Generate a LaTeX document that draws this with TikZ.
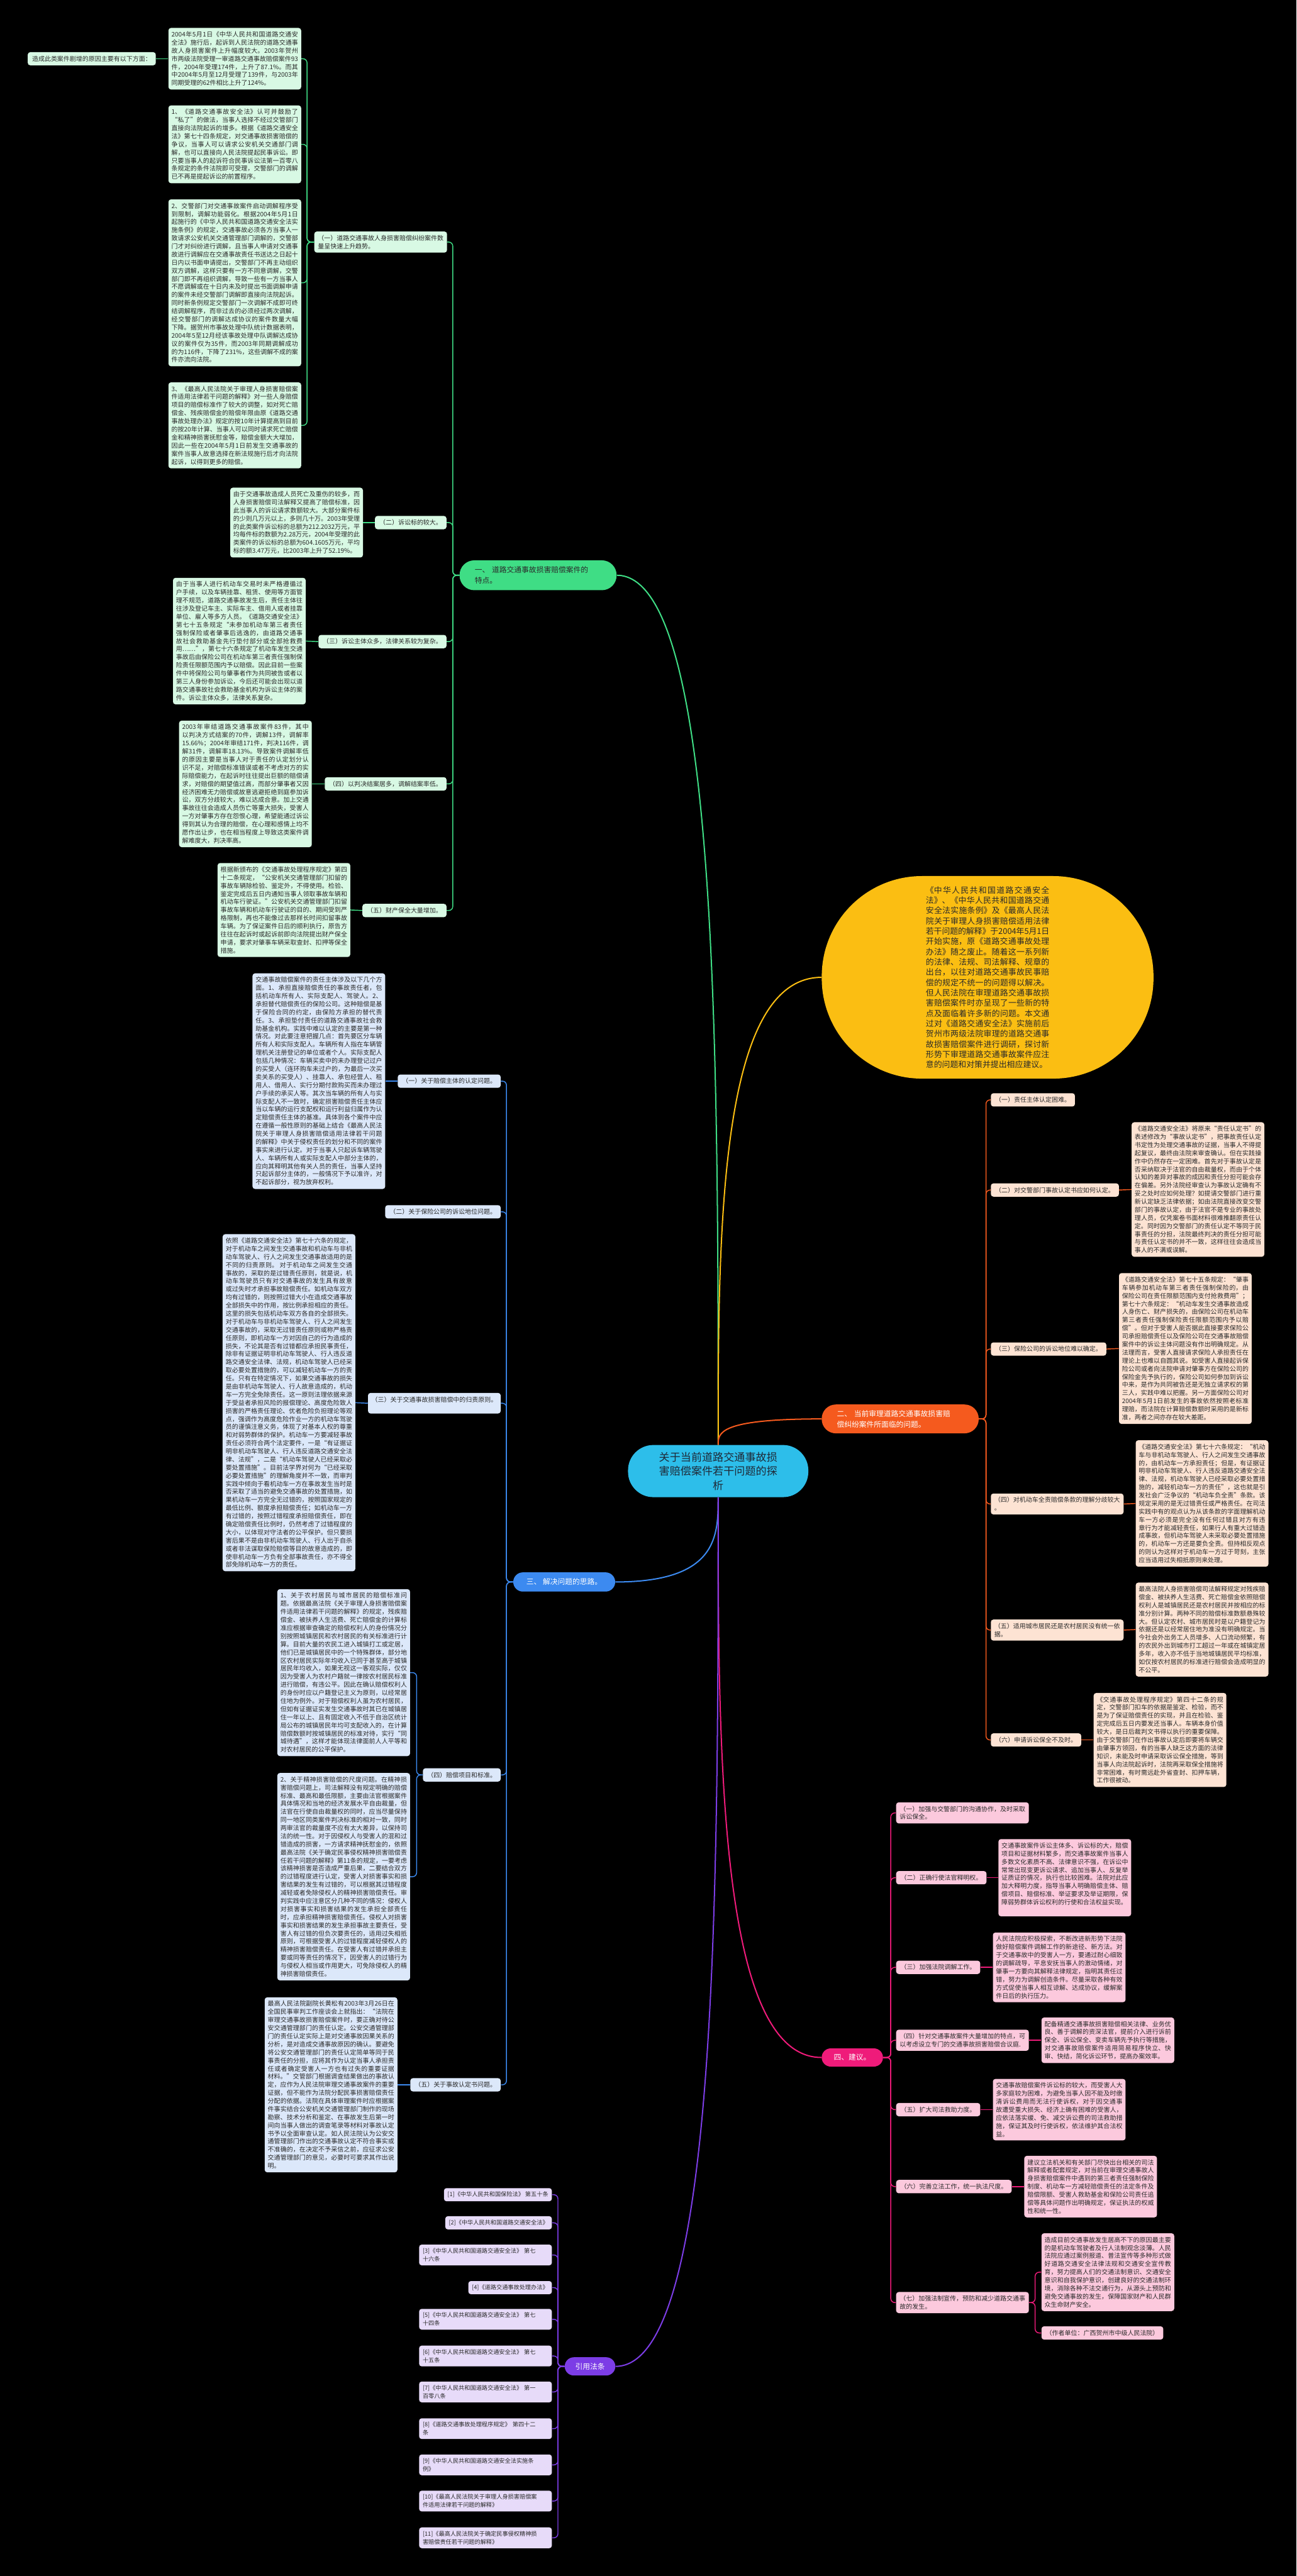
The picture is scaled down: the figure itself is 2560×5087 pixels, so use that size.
\documentclass[tikz,border=0pt]{standalone}
\usepackage{fontspec}
\setmainfont{Noto Sans CJK SC}
\XeTeXlinebreaklocale "zh"
\XeTeXlinebreakskip=0pt plus 1pt minus 0.1pt
\tolerance=9999
\emergencystretch=20pt
\hbadness=10000
\hfuzz=2pt
\definecolor{gmain}{HTML}{3FDD85}
\definecolor{gfill}{HTML}{D8F9E4}
\definecolor{bmain}{HTML}{3C8AF0}
\definecolor{bfill}{HTML}{DCE8FA}
\definecolor{omain}{HTML}{F55A1E}
\definecolor{ofill}{HTML}{FDE3D3}
\definecolor{pmain}{HTML}{EF1B7A}
\definecolor{pfill}{HTML}{FCC9DD}
\definecolor{vmain}{HTML}{7C3DE6}
\definecolor{vfill}{HTML}{E7DBF9}
\definecolor{yel}{HTML}{FBBE12}
\definecolor{cmain}{HTML}{2DBEEA}
\definecolor{txt}{HTML}{2A2A2A}
\definecolor{ctxt}{HTML}{1F2937}
\tikzset{
  para/.style={font=\fontsize{6.2pt}{8pt}\selectfont, text=txt, rounded corners=2.5pt, inner xsep=3pt, inner ysep=3.5pt, text width=125pt, align=justify},
  lab/.style={font=\fontsize{6.2pt}{8pt}\selectfont, text=txt, rounded corners=2.5pt, inner xsep=4.3pt, inner ysep=3.6pt},
  labw/.style={para, align=left, inner xsep=3.5pt, text width=124pt},
  refn/.style={font=\fontsize{5.7pt}{8pt}\selectfont, text=txt, rounded corners=2.5pt, inner xsep=3.5pt, inner ysep=3.6pt},
  refw/.style={refn, text width=124pt, align=left},
  gbx/.style={fill=gfill}, bbx/.style={fill=bfill}, obx/.style={fill=ofill}, pbx/.style={fill=pfill}, vbx/.style={fill=vfill},
  bigbr/.style={font=\fontsize{7.3pt}{10.5pt}\selectfont, align=left},
  mainc/.style={line width=1.25pt},
  subc/.style={line width=0.9pt, rounded corners=4pt},
}
\begin{document}
\begin{tikzpicture}[x=0.5pt,y=-0.5pt]
\fill[black] (0,0) rectangle (2560,5087);
\useasboundingbox (0,0) rectangle (2560,5087);

% ---------- central ----------
\node[fill=cmain, rounded corners=25pt, minimum width=178pt, minimum height=51.5pt, text width=118pt, align=center, font=\fontsize{10.6pt}{14pt}\selectfont, text=ctxt] (c) at (1418,2905) {关于当前道路交通事故损\\害赔偿案件若干问题的探\\析};

% ---------- intro ----------
\node[fill=yel, rounded corners=99pt, minimum width=327.5pt, minimum height=200pt, text width=122pt, inner ysep=2pt, align=justify, font=\fontsize{8pt}{10.15pt}\selectfont, text=txt] (intro) at (1950,1930) {《中华人民共和国道路交通安全法》、《中华人民共和国道路交通安全法实施条例》及《最高人民法院关于审理人身损害赔偿适用法律若干问题的解释》于2004年5月1日开始实施，原《道路交通事故处理办法》随之废止。随着这一系列新的法律、法规、司法解释、规章的出台，以往对道路交通事故民事赔偿的规定不统一的问题得以解决。但人民法院在审理道路交通事故损害赔偿案件时亦呈现了一些新的特点及面临着许多新的问题。本文通过对《道路交通安全法》实施前后贺州市两级法院审理的道路交通事故损害赔偿案件进行调研，探讨新形势下审理道路交通事故案件应注意的问题和对策并提出相应建议。};

% ---------- main branches ----------
\node[fill=gmain, rounded corners=14.5pt, minimum height=29.5pt, anchor=west, inner xsep=15pt, text width=125pt, bigbr, text=txt] (b1) at (907,1136) {一、 道路交通事故损害赔偿案件的\\特点。};
\node[fill=omain, rounded corners=14pt, minimum height=28.5pt, anchor=west, inner xsep=15pt, text width=125pt, bigbr, text=white] (b2) at (1622,2802) {二、 当前审理道路交通事故损害赔\\偿纠纷案件所面临的问题。};
\node[fill=bmain, rounded corners=9.5pt, minimum height=19pt, anchor=west, inner xsep=13pt, bigbr, text=white] (b3) at (1013,3124) {三、 解决问题的思路。};
\node[fill=pmain, rounded corners=9pt, minimum height=18pt, anchor=west, inner xsep=12pt, bigbr, text=white] (b4) at (1622,4063) {四、建议。};
\node[fill=vmain, rounded corners=9pt, minimum height=18pt, minimum width=50pt, bigbr, text=white] (b5) at (1165,4673) {引用法条};

% ---------- branch 1 ----------
\node[labw, gbx, anchor=east] (b1c1) at (883,478) {（一）道路交通事故人身损害赔偿纠纷案件数量呈快速上升趋势。};
\node[para, gbx, anchor=east] (A) at (595,116) {2004年5月1日《中华人民共和国道路交通安全法》施行后，起诉到人民法院的道路交通事故人身损害案件上升幅度较大。2003年贺州市两级法院受理一审道路交通事故赔偿案件93件，2004年受理174件，上升了87.1\%。而其中2004年5月至12月受理了139件，与2003年同期受理的62件相比上升了124\%。};
\node[lab, gbx, anchor=east] (T) at (308,116) {造成此类案件剧增的原因主要有以下方面：};
\node[para, gbx, anchor=east] (B) at (595,285) {1、《道路交通事故安全法》认可并鼓励了“私了”的做法，当事人选择不经过交管部门直接向法院起诉的增多。根据《道路交通安全法》第七十四条规定，对交通事故损害赔偿的争议，当事人可以请求公安机关交通部门调解，也可以直接向人民法院提起民事诉讼。即只要当事人的起诉符合民事诉讼法第一百零八条规定的条件法院即可受理，交警部门的调解已不再是提起诉讼的前置程序。};
\node[para, gbx, anchor=east] (C) at (595,558.5) {2、交警部门对交通事故案件启动调解程序受到限制，调解功能弱化。根据2004年5月1日起施行的《中华人民共和国道路交通安全法实施条例》的规定，交通事故必须各方当事人一致请求公安机关交通管理部门调解的，交警部门才对纠纷进行调解，且当事人申请对交通事故进行调解应在交通事故责任书送达之日起十日内以书面申请提出，交警部门不再主动组织双方调解，这样只要有一方不同意调解，交警部门即不再组织调解，导致一些有一方当事人不愿调解或在十日内未及时提出书面调解申请的案件未经交警部门调解即直接向法院起诉。同时新条例规定交警部门一次调解不成即可终结调解程序，而非过去的必须经过两次调解，经交警部门的调解达成协议的案件数量大幅下降。据贺州市事故处理中队统计数据表明，2004年5至12月经该事故处理中队调解达成协议的案件仅为35件，而2003年同期调解成功的为116件，下降了231\%，这些调解不成的案件亦流向法院。};
\node[para, gbx, anchor=east] (D) at (595,840) {3、《最高人民法院关于审理人身损害赔偿案件适用法律若干问题的解释》对一些人身赔偿项目的赔偿标准作了较大的调整，如对死亡赔偿金、残疾赔偿金的赔偿年限由原《道路交通事故处理办法》规定的按10年计算提高到目前的按20年计算、当事人可以同时请求死亡赔偿金和精神损害抚慰金等，赔偿金额大大增加，因此一些在2004年5月1日前发生交通事故的案件当事人故意选择在新法规施行后才向法院起诉，以得到更多的赔偿。};
\node[lab, gbx, anchor=east] (b1c2) at (882,1032) {（二）诉讼标的较大。};
\node[para, gbx, anchor=east] (E) at (717,1032) {由于交通事故造成人员死亡及重伤的较多，而人身损害赔偿司法解释又提高了赔偿标准，因此当事人的诉讼请求数额较大。大部分案件标的少则几万元以上，多则几十万。2003年受理的此类案件诉讼标的总额为212.2032万元，平均每件标的数额为2.28万元，2004年受理的此类案件的诉讼标的总额为604.1605万元，平均标的额3.47万元，比2003年上升了52.19\%。};
\node[lab, gbx, anchor=east] (b1c3) at (882,1267) {（三）诉讼主体众多，法律关系较为复杂。};
\node[para, gbx, anchor=east] (F) at (604,1266) {由于当事人进行机动车交易时未严格遵循过户手续，以及车辆挂靠、租赁、使用等方面管理不规范，道路交通事故发生后，责任主体往往涉及登记车主、实际车主、借用人或者挂靠单位、雇人等多方人员。《道路交通安全法》第七十五条规定“未参加机动车第三者责任强制保险或者肇事后逃逸的，由道路交通事故社会救助基金先行垫付部分或全部抢救费用……”，第七十六条规定了机动车发生交通事故后由保险公司在机动车第三者责任强制保险责任限额范围内予以赔偿。因此目前一些案件中将保险公司与肇事者作为共同被告或者以第三人身份参加诉讼，今后还可能会出现以道路交通事故社会救助基金机构为诉讼主体的案件。诉讼主体众多，法律关系复杂。};
\node[lab, gbx, anchor=east] (b1c4) at (882,1548) {（四）以判决结案居多，调解结案率低。};
\node[para, gbx, anchor=east] (G) at (616,1548) {2003年审结道路交通事故案件83件，其中以判决方式结案的70件，调解13件，调解率15.66\%；2004年审结171件，判决116件，调解31件，调解率18.13\%。导致案件调解率低的原因主要是当事人对于责任的认定划分认识不足，对赔偿标准错误或者不考虑对方的实际赔偿能力，在起诉时往往提出巨额的赔偿请求，对赔偿的期望值过高，而部分肇事者又因经济困难无力赔偿或故意逃避拒绝到庭参加诉讼，双方分歧较大，难以达成合意。加上交通事故往往会造成人员伤亡等重大损失，受害人一方对肇事方存在怨恨心理，希望能通过诉讼得到其认为合理的赔偿，在心理和感情上均不愿作出让步，也在相当程度上导致这类案件调解难度大，判决率高。};
\node[lab, gbx, anchor=east] (b1c5) at (882,1798) {（五）财产保全大量增加。};
\node[para, gbx, anchor=east] (H) at (692,1797) {根据新颁布的《交通事故处理程序规定》第四十二条规定，“公安机关交通管理部门扣留的事故车辆除检验、鉴定外，不得使用。检验、鉴定完成后五日内通知当事人领取事故车辆和机动车行驶证。”公安机关交通管理部门扣留事故车辆和机动车行驶证的目的、期间受到严格限制，再也不能像过去那样长时间扣留事故车辆。为了保证案件日后的顺利执行，原告方往往在起诉时或起诉前即向法院提出财产保全申请，要求对肇事车辆采取查封、扣押等保全措施。};

% ---------- branch 3 ----------
\node[lab, bbx, anchor=east] (b3c1) at (989,2135) {（一）关于赔偿主体的认定问题。};
\node[para, bbx, anchor=east] (I) at (761,2135) {交通事故赔偿案件的责任主体涉及以下几个方面。1、承担直接赔偿责任的事故责任者，包括机动车所有人、实际支配人、驾驶人。2、承担替代赔偿责任的保险公司。这种赔偿是基于保险合同的约定，由保险方承担的替代责任。3、承担垫付责任的道路交通事故社会救助基金机构。实践中难以认定的主要是第一种情况。对此要注意把握几点：首先要区分车辆所有人和实际支配人。车辆所有人指在车辆管理机关注册登记的单位或者个人。实际支配人包括几种情况：车辆买卖中的未办理登记过户的买受人（连环购车未过户的，为最后一次买卖关系的买受人）、挂靠人、承包经营人、租用人、借用人、实行分期付款购买而未办理过户手续的承买人等。其次当车辆的所有人与实际支配人不一致时，确定损害赔偿责任主体应当以车辆的运行支配权和运行利益归属作为认定赔偿责任主体的基准。具体到各个案件中应在遵循一般性原则的基础上结合《最高人民法院关于审理人身损害赔偿适用法律若干问题的解释》中关于侵权责任的划分和不同的案件事实来进行认定。对于当事人只起诉车辆驾驶人、车辆所有人或实际支配人中部分主体的，应向其释明其他有关人员的责任，当事人坚持只起诉部分主体的，一般情况下予以准许，对不起诉部分，视为放弃权利。};
\node[lab, bbx, anchor=east] (b3c2) at (989,2393) {（二）关于保险公司的诉讼地位问题。};
\node[labw, bbx, anchor=east] (b3c3) at (989,2771) {（三）关于交通事故损害赔偿中的归责原则。\\\mbox{}};
\node[para, bbx, anchor=east] (J) at (702,2770) {依照《道路交通安全法》第七十六条的规定，对于机动车之间发生交通事故和机动车与非机动车驾驶人、行人之间发生交通事故适用的是不同的归责原则。 对于机动车之间发生交通事故的，采取的是过错责任原则，就是说，机动车驾驶员只有对交通事故的发生具有故意或过失时才承担事故赔偿责任。如机动车双方均有过错的，则按照过错大小在造成交通事故全部损失中的作用，按比例承担相应的责任。这里的损失包括机动车双方各自的全部损失。对于机动车与非机动车驾驶人、行人之间发生交通事故的，采取无过错责任原则或称严格责任原则，即机动车一方对因自己的行为造成的损失，不论其是否有过错都应承担民事责任，除非有证据证明非机动车驾驶人、行人违反道路交通安全法律、法规，机动车驾驶人已经采取必要处置措施的，可以减轻机动车一方的责任。只有在特定情况下，如果交通事故的损失是由非机动车驾驶人、行人故意造成的，机动车一方完全免除责任。这一原则法理依据来源于受益者承担风险的报偿理论、高度危险致人损害的严格责任理论、优者危险负担理论等观点，强调作为高度危险作业一方的机动车驾驶员的谨慎注意义务，体现了对基本人权的尊重和对弱势群体的保护。机动车一方要减轻事故责任必须符合两个法定要件，一是“有证据证明非机动车驾驶人、行人违反道路交通安全法律、法规”，二是“机动车驾驶人已经采取必要处置措施”。目前法学界对何为“已经采取必要处置措施”的理解角度并不一致，而审判实践中倾向于看机动车一方在事故发生当时是否采取了适当的避免交通事故的处置措施，如果机动车一方完全无过错的，按照国家规定的最低比例、额度承担赔偿责任；如机动车一方有过错的，按照过错程度承担赔偿责任，即在确定赔偿责任比例时，仍然考虑了过错程度的大小，以体现对守法者的公平保护。但只要损害后果不是由非机动车驾驶人、行人出于自杀或者非法谋取保险赔偿等目的故意造成的，即使非机动车一方负有全部事故责任，亦不得全部免除机动车一方的责任。};
\node[lab, bbx, anchor=east] (b3c4) at (989,3505) {（四）赔偿项目和标准。};
\node[para, bbx, anchor=east] (K) at (810,3303) {1、关于农村居民与城市居民的赔偿标准问题。依据最高法院《关于审理人身损害赔偿案件适用法律若干问题的解释》的规定，残疾赔偿金、被扶养人生活费、死亡赔偿金的计算标准应根据审查确定的赔偿权利人的身份情况分别按照城镇居民和农村居民的有关标准进行计算。目前大量的农民工进入城镇打工或定居，他们已是城镇居民中的一个特殊群体，部分地区农村居民实际年均收入已同于甚至高于城镇居民年均收入，如果无视这一客观实际，仅仅因为受害人为农村户籍就一律按农村居民标准进行赔偿，有违公平。因此在确认赔偿权利人的身份时应以户籍登记主义为原则，以经常居住地为例外。对于赔偿权利人虽为农村居民，但如有证据证实发生交通事故时其已在城镇居住一年以上、且有固定收入不低于自治区统计局公布的城镇居民年均可支配收入的，在计算赔偿数额时按城镇居民的标准对待，实行“同城待遇”，这样才能体现法律面前人人平等和对农村居民的公平保护。};
\node[para, bbx, anchor=east] (L) at (810,3706) {2、关于精神损害赔偿的尺度问题。在精神损害赔偿问题上，司法解释没有规定明确的赔偿标准、最高和最低限额，主要由法官根据案件具体情况和当地的经济发展水平自由裁量，但法官在行使自由裁量权的同时，应当尽量保持同一地区同类案件判决标准的相对一致，同时两审法官的裁量度不应有太大差异，以保持司法的统一性。对于因侵权人与受害人的混和过错造成的损害，一方请求精神抚慰金的，依照最高法院《关于确定民事侵权精神损害赔偿责任若干问题的解释》第11条的规定，一要考虑该精神损害是否造成严重后果，二要结合双方的过错程度进行认定，受害人对损害事实和损害结果的发生有过错的，可以根据其过错程度减轻或者免除侵权人的精神损害赔偿责任。审判实践中应注意区分几种不同的情况：侵权人对损害事实和损害结果的发生承担全部责任时，应承担精神损害赔偿责任。侵权人对损害事实和损害结果的发生承担事故主要责任，受害人有过错的但负次要责任的，适用过失相抵原则，可根据受害人的过错程度减轻侵权人的精神损害赔偿责任。在受害人有过错并承担主要或同等责任的情况下，因受害人的过错行为与侵权人相当或作用更大，可免除侵权人的精神损害赔偿责任。};
\node[lab, bbx, anchor=east] (b3c5) at (989,4117) {（五）关于事故认定书问题。};
\node[para, bbx, anchor=east] (M) at (785,4117) {最高人民法院副院长黄松有2003年3月26日在全国民事审判工作座谈会上就指出：“法院在审理交通事故损害赔偿案件时，要正确对待公安交通管理部门的责任认定。公安交通管理部门的责任认定实际上是对交通事故因果关系的分析，是对造成交通事故原因的确认。要避免将公安交通管理部门的责任认定简单等同于民事责任的分担，应将其作为认定当事人承担责任或者确定受害人一方也有过失的重要证据材料。”交管部门根据调查结果做出的事故认定，应作为人民法院审理交通事故案件的重要证据，但不能作为法院分配民事损害赔偿责任分配的依据。法院在具体审理案件时应根据案件事实结合公安机关交通管理部门制作的现场勘察、技术分析和鉴定、在事故发生后第一时间向当事人做出的调查笔录等材料对事故认定书予以全面审查认定。如人民法院认为公安交通管理部门作出的交通事故认定不符合事实或不准确的，在决定不予采信之前，应征求公安交通管理部门的意见，必要时可要求其作出说明。};

% ---------- branch 2 ----------
\node[lab, obx, anchor=west] (b2c1) at (1956,2172) {（一）责任主体认定困难。};
\node[lab, obx, anchor=west] (b2c2) at (1956,2350) {（二）对交警部门事故认定书应如何认定。};
\node[para, obx, anchor=west] (N) at (2234,2349) {《道路交通安全法》将原来“责任认定书”的表述修改为“事故认定书”，把事故责任认定书定性为处理交通事故的证据，当事人不得提起复议，最终由法院来审查确认。但在实践操作中仍然存在一定困难。首先对于事故认定是否采纳取决于法官的自由裁量权，而由于个体认知的差异对事故的成因和责任分担可能会存在偏差。另外法院经审查认为事故认定确有不妥之处时应如何处理？如提请交警部门进行重新认定缺乏法律依据；如由法院直接改变交警部门的事故认定，由于法官不是专业的事故处理人员，仅凭案卷书面材料很难推翻原责任认定。同时因为交警部门的责任认定不等同于民事责任的分担，法院最终判决的责任分担可能与责任认定书的并不一致，这样往往会造成当事人的不满或误解。};
\node[lab, obx, anchor=west] (b2c3) at (1956,2664) {（三）保险公司的诉讼地位难以确定。};
\node[para, obx, anchor=west] (O) at (2209,2663) {《道路交通安全法》第七十五条规定：“肇事车辆参加机动车第三者责任强制保险的，由保险公司在责任限额范围内支付抢救费用”；第七十六条规定：“机动车发生交通事故造成人身伤亡、财产损失的，由保险公司在机动车第三者责任强制保险责任限额范围内予以赔偿”。但对于受害人能否据此直接要求保险公司承担赔偿责任以及保险公司在交通事故赔偿案件中的诉讼主体问题没有作出明确规定。从法理而言，受害人直接请求保险人承担责任在理论上也难以自圆其说。如受害人直接起诉保险公司或者向法院申请对肇事方在保险公司的保险金先予执行的，保险公司如何参加到诉讼中来，是作为共同被告还是无独立请求权的第三人，实践中难以把握。另一方面保险公司对2004年5月1日前发生的事故依然按照老标准理赔，而法院在计算赔偿数额时采用的是新标准，两者之间亦存在较大差距。};
\node[labw, obx, anchor=west] (b2c4) at (1956,2970) {（四）对机动车全责赔偿条款的理解分歧较大\\。};
\node[para, obx, anchor=west] (P) at (2242,2969) {《道路交通安全法》第七十六条规定：“机动车与非机动车驾驶人、行人之间发生交通事故的，由机动车一方承担责任；但是，有证据证明非机动车驾驶人、行人违反道路交通安全法律、法规，机动车驾驶人已经采取必要处置措施的，减轻机动车一方的责任”，这也就是引发社会广泛争议的“机动车负全责”条款。该规定采用的是无过错责任或严格责任。在司法实践中有的观点认为从该条款的字面理解机动车一方必须是完全没有任何过错且对方有违章行为才能减轻责任，如果行人有重大过错造成事故，但机动车驾驶人未采取必要处置措施的，机动车一方还是要负全责。但持相反观点的则认为这样对于机动车一方过于苛刻，主张应当适用过失相抵原则来处理。};
\node[labw, obx, anchor=west] (b2c5) at (1956,3219) {（五）适用城市居民还是农村居民没有统一依\\据。};
\node[para, obx, anchor=west] (Q) at (2242,3218) {最高法院人身损害赔偿司法解释规定对残疾赔偿金、被扶养人生活费、死亡赔偿金依照赔偿权利人是城镇居民还是农村居民并按相应的标准分别计算。两种不同的赔偿标准数额悬殊较大。但认定农村、城市居民时是以户籍登记为依据还是以经常居住地为准没有明确规定。当今社会外出务工人员增多、人口流动频繁，有的农民外出到城市打工超过一年或在城镇定居多年，收入亦不低于当地城镇居民平均标准，如仅按农村居民的标准进行赔偿会造成明显的不公平。};
\node[lab, obx, anchor=west] (b2c6) at (1956,3436) {（六）申请诉讼保全不及时。};
\node[para, obx, anchor=west] (R) at (2159,3436) {《交通事故处理程序规定》第四十二条的规定，交警部门扣车的依据是鉴定、检验，而不是为了保证赔偿责任的实现，并且在检验、鉴定完成后五日内要发还当事人。车辆本身价值较大，是日后裁判文书得以执行的重要保障。由于交警部门在作出事故认定后即要将车辆交由肇事方领回，有的当事人缺乏这方面的法律知识，未能及时申请采取诉讼保全措施，等到当事人向法院起诉时，法院再采取保全措施将非常困难，有时需远赴外省查封、扣押车辆，工作很被动。};

% ---------- branch 4 ----------
\node[labw, pbx, anchor=west] (b4c1) at (1769,3580) {（一）加强与交警部门的沟通协作，及时采取诉讼保全。};
\node[lab, pbx, anchor=west] (b4c2) at (1769,3708) {（二）正确行使法官释明权。};
\node[para, pbx, anchor=west] (S) at (1971,3708) {交通事故案件诉讼主体多、诉讼标的大，赔偿项目和证据材料繁多，而交通事故案件当事人多数文化素质不高、法律意识不强，在诉讼中常常出现变更诉讼请求、追加当事人、反复举证质证的情况，执行也比较困难。法院对此应加大释明力度，指导当事人明确赔偿主体、赔偿项目、赔偿标准、举证要求及举证期限，保障弱势群体诉讼权利的行使和合法权益实现。\par\mbox{}};
\node[lab, pbx, anchor=west] (b4c3) at (1769,3885) {（三）加强法院调解工作。};
\node[para, pbx, anchor=west] (T4) at (1960,3885) {人民法院应积极探索，不断改进新形势下法院做好赔偿案件调解工作的新途径、新方法。对于交通事故中的受害人一方，要通过耐心细致的调解疏导，平息安抚当事人的激动情绪，对肇事一方要向其解释法律规定，指明其责任过错，努力为调解创造条件。尽量采取各种有效方式促使当事人相互谅解、达成协议，缓解案件日后的执行压力。};
\node[labw, pbx, anchor=west] (b4c4) at (1769,4029) {（四）针对交通事故案件大量增加的特点，可以考虑设立专门的交通事故损害赔偿合议庭.};
\node[para, pbx, anchor=west] (U) at (2056,4029) {配备精通交通事故损害赔偿相关法律、业务优良、善于调解的资深法官，提前介入进行诉前保全、诉讼保全、变卖车辆先予执行等措施，对交通事故赔偿案件适用简易程序快立、快审、快结，简化诉讼环节，提高办案效率。};
\node[lab, pbx, anchor=west] (b4c5) at (1769,4166) {（五）扩大司法救助力度。};
\node[para, pbx, anchor=west] (V) at (1960,4166) {交通事故赔偿案件诉讼标的较大，而受害人大多家庭较为困难，为避免当事人因不能及时缴清诉讼费用而无法行使诉权，对于因交通事故遭受重大损失、经济上确有困难的受害人，应依法落实缓、免、减交诉讼费的司法救助措施，保证其及时行使诉权，依法维护其合法权益。};
\node[lab, pbx, anchor=west] (b4c6) at (1769,4318) {（六）完善立法工作，统一执法尺度。};
\node[para, pbx, anchor=west] (W) at (2022,4318) {建议立法机关和有关部门尽快出台相关的司法解释或者配套规定，对当前在审理交通事故人身损害赔偿案件中遇到的第三者责任强制保险制度、机动车一方减轻赔偿责任的法定条件及赔偿限额、受害人救助基金和保险公司责任追偿等具体问题作出明确规定，保证执法的权威性和统一性。};
\node[labw, pbx, anchor=west] (b4c7) at (1769,4547) {（七）加强法制宣传，预防和减少道路交通事故的发生。};
\node[para, pbx, anchor=west] (X) at (2056,4487) {造成目前交通事故发生居高不下的原因最主要的是机动车驾驶者及行人法制观念淡薄。人民法院应通过案例报道、普法宣传等多种形式做好道路交通安全法律法规和交通安全宣传教育，努力提高人们的交通法制意识、交通安全意识和自我保护意识，创建良好的交通法制环境，消除各种不法交通行为，从源头上预防和避免交通事故的发生，保障国家财产和人民群众生命财产安全。};
\node[lab, pbx, anchor=west] (Y) at (2056,4607) {（作者单位：广西贺州市中级人民法院）};

% ---------- branch 5 ----------
\node[refn, vbx, anchor=east] (r1) at (1090,4334) {[1]《中华人民共和国保险法》 第五十条};
\node[refn, vbx, anchor=east] (r2) at (1090,4389.5) {[2]《中华人民共和国道路交通安全法》};
\node[refw, vbx, anchor=east] (r3) at (1090,4453) {[3]《中华人民共和国道路交通安全法》 第七\\十六条};
\node[refn, vbx, anchor=east] (r4) at (1090,4517.5) {[4]《道路交通事故处理办法》};
\node[refw, vbx, anchor=east] (r5) at (1090,4580) {[5]《中华人民共和国道路交通安全法》 第七\\十四条};
\node[refw, vbx, anchor=east] (r6) at (1090,4652.5) {[6]《中华人民共和国道路交通安全法》 第七\\十五条};
\node[refw, vbx, anchor=east] (r7) at (1090,4723.5) {[7]《中华人民共和国道路交通安全法》 第一\\百零八条};
\node[refw, vbx, anchor=east] (r8) at (1090,4796) {[8]《道路交通事故处理程序规定》 第四十二\\条};
\node[refw, vbx, anchor=east] (r9) at (1090,4867.5) {[9]《中华人民共和国道路交通安全法实施条\\例》};
\node[refw, vbx, anchor=east] (r10) at (1090,4939) {[10]《最高人民法院关于审理人身损害赔偿案\\件适用法律若干问题的解释》};
\node[refw, vbx, anchor=east] (r11) at (1090,5011.5) {[11]《最高人民法院关于确定民事侵权精神损\\害赔偿责任若干问题的解释》};

% ---------- main connectors ----------
\draw[mainc, gmain] (c.north) .. controls (1418,2080) and (1418,1136) .. (b1.east);
\draw[mainc, yel] (c.north) .. controls (1418,2438) and (1418,1930) .. (intro.west);
\draw[mainc, omain] (c.north) .. controls (1418,2830) and (1418,2802) .. (b2.west);
\draw[mainc, bmain] (c.south) .. controls (1418,3032) and (1418,3124) .. (b3.east);
\draw[mainc, pmain] (c.south) .. controls (1418,3455) and (1418,4063) .. (b4.west);
\draw[mainc, vmain] (c.south) .. controls (1418,3729) and (1418,4673) .. (b5.east);

% ---------- branch 1 connectors ----------
\foreach \n in {b1c1,b1c2,b1c3,b1c4,b1c5}
  \draw[subc, gmain] (b1.west) -- ++(-13,0) |- (\n.east);
\foreach \n in {A,B,C,D}
  \draw[subc, gmain] (b1c1.west) -- ++(-14,0) |- (\n.east);
\draw[subc, gmain] (A.west) -- (T.east);
\draw[subc, gmain] (b1c2.west) -- (E.east);
\draw[subc, gmain] (b1c3.west) -- (F.east);
\draw[subc, gmain] (b1c4.west) -- (G.east);
\draw[subc, gmain] (b1c5.west) -- (H.east);

% ---------- branch 3 connectors ----------
\foreach \n in {b3c1,b3c2,b3c3,b3c4,b3c5}
  \draw[subc, bmain] (b3.west) -- ++(-13,0) |- (\n.east);
\draw[subc, bmain] (b3c1.west) -- (I.east);
\draw[subc, bmain] (b3c3.west) -- (J.east);
\foreach \n in {K,L}
  \draw[subc, bmain] (b3c4.west) -- ++(-12,0) |- (\n.east);
\draw[subc, bmain] (b3c5.west) -- (M.east);

% ---------- branch 2 connectors ----------
\foreach \n in {b2c1,b2c2,b2c3,b2c4,b2c5,b2c6}
  \draw[subc, omain] (b2.east) -- ++(14,0) |- (\n.west);
\draw[subc, omain] (b2c2.east) -- (N.west);
\draw[subc, omain] (b2c3.east) -- (O.west);
\draw[subc, omain] (b2c4.east) -- (P.west);
\draw[subc, omain] (b2c5.east) -- (Q.west);
\draw[subc, omain] (b2c6.east) -- (R.west);

% ---------- branch 4 connectors ----------
\foreach \n in {b4c1,b4c2,b4c3,b4c4,b4c5,b4c6,b4c7}
  \draw[subc, pmain] (b4.east) -- ++(15,0) |- (\n.west);
\draw[subc, pmain] (b4c2.east) -- (S.west);
\draw[subc, pmain] (b4c3.east) -- (T4.west);
\draw[subc, pmain] (b4c4.east) -- (U.west);
\draw[subc, pmain] (b4c5.east) -- (V.west);
\draw[subc, pmain] (b4c6.east) -- (W.west);
\foreach \n in {X,Y}
  \draw[subc, pmain] (b4c7.east) -- ++(12,0) |- (\n.west);

% ---------- branch 5 connectors ----------
\foreach \n in {r1,r2,r3,r4,r5,r6,r7,r8,r9,r10,r11}
  \draw[subc, vmain] (b5.west) -- ++(-13,0) |- (\n.east);
\end{tikzpicture}
\end{document}
